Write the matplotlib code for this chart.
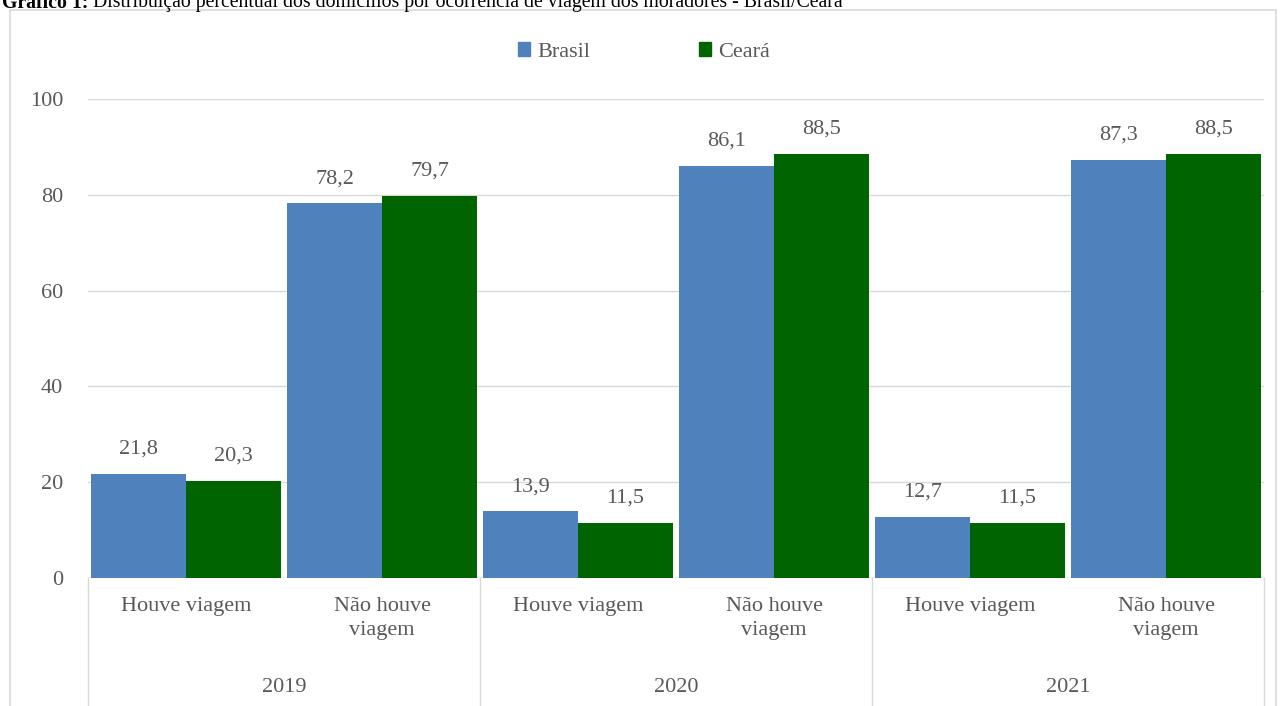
import numpy as np
import matplotlib.pyplot as plt
from matplotlib.patches import Rectangle, Patch

years = ["2019", "2020", "2021"]
categorias = ["Houve viagem", "Não houve\nviagem"]
brasil = [21.8, 78.2, 13.9, 86.1, 12.7, 87.3]
ceara = [20.3, 79.7, 11.5, 88.5, 11.5, 88.5]
yticks = [0, 20, 40, 60, 80, 100]

plt.rcParams['font.family'] = ['Liberation Serif', 'DejaVu Serif']
txt = '#595959'
grid = '#d9d9d9'
fs = 16

fig = plt.figure(figsize=(12.84, 7.06), dpi=100)
ax = fig.add_axes([88 / 1284, 1 - 578 / 706, (1264 - 88) / 1284, (578 - 99) / 706])

x = np.arange(len(brasil))
w = 0.485
ax.bar(x - w / 2, brasil, w, color='#4f81bd', label='Brasil', zorder=3)
ax.bar(x + w / 2, ceara, w, color='#006400', label='Ceará', zorder=3)

for i in range(len(x)):
    ax.text(x[i] - w / 2, brasil[i] + 3.2, f"{brasil[i]:.1f}".replace('.', ','),
            ha='center', va='bottom', fontsize=fs, color=txt)
    ax.text(x[i] + w / 2, ceara[i] + 3.2, f"{ceara[i]:.1f}".replace('.', ','),
            ha='center', va='bottom', fontsize=fs, color=txt)

ax.set_xlim(-0.5, len(x) - 0.5)
ax.set_ylim(0, 100)
ax.set_yticks(yticks)
ax.set_yticklabels([str(t) for t in yticks], fontsize=fs, color=txt)
ax.tick_params(axis='y', length=0, pad=18)
ax.set_xticks([])
ax.grid(axis='y', color=grid, linewidth=1, zorder=0)
for s in ax.spines.values():
    s.set_visible(False)
ax.axhline(0, color=grid, linewidth=1, zorder=2)

# category axis below the plot
for i in range(len(x)):
    ax.text(x[i], -4.0, categorias[i % 2], ha='center', va='top', fontsize=fs,
            color=txt, linespacing=1.35, clip_on=False)
for g, yr in enumerate(years):
    ax.text(2 * g + 0.5, -22.9, yr, ha='center', va='center', fontsize=fs,
            color=txt, clip_on=False)
for b in [-0.5, 1.5, 3.5, 5.5]:
    ax.plot([b, b], [0, -28], color=grid, linewidth=1, clip_on=False)

# outer chart border
fig.patches.append(Rectangle((10 / 1284, -0.05), 1266 / 1284, 1 - 10 / 706 + 0.05,
                             transform=fig.transFigure, fill=False,
                             edgecolor='#d9d9d9', linewidth=1.2))

handles = [Patch(color='#4f81bd', label='Brasil'), Patch(color='#006400', label='Ceará')]
fig.legend(handles=handles, loc='center', bbox_to_anchor=(644 / 1284, 1 - 52 / 706),
           ncol=2, frameon=False, fontsize=fs, handlelength=0.55, handleheight=0.55,
           handletextpad=0.3, columnspacing=4.9, labelcolor=txt)

# title line, cut off at the top as in the source image
t1 = fig.text(2 / 1284, 1 - 7.5 / 706, "Gráfico 1:", ha='left', va='baseline',
              fontsize=14.2, fontweight='bold', color='black')
fig.canvas.draw()
bb = t1.get_window_extent()
fig.text((bb.x1 + 5) / 1284, 1 - 7.5 / 706,
         "Distribuição percentual dos domicílios por ocorrência de viagem dos moradores - Brasil/Ceará",
         ha='left', va='baseline', fontsize=14.2, color='black')

fig.savefig('out.png', dpi=100)
